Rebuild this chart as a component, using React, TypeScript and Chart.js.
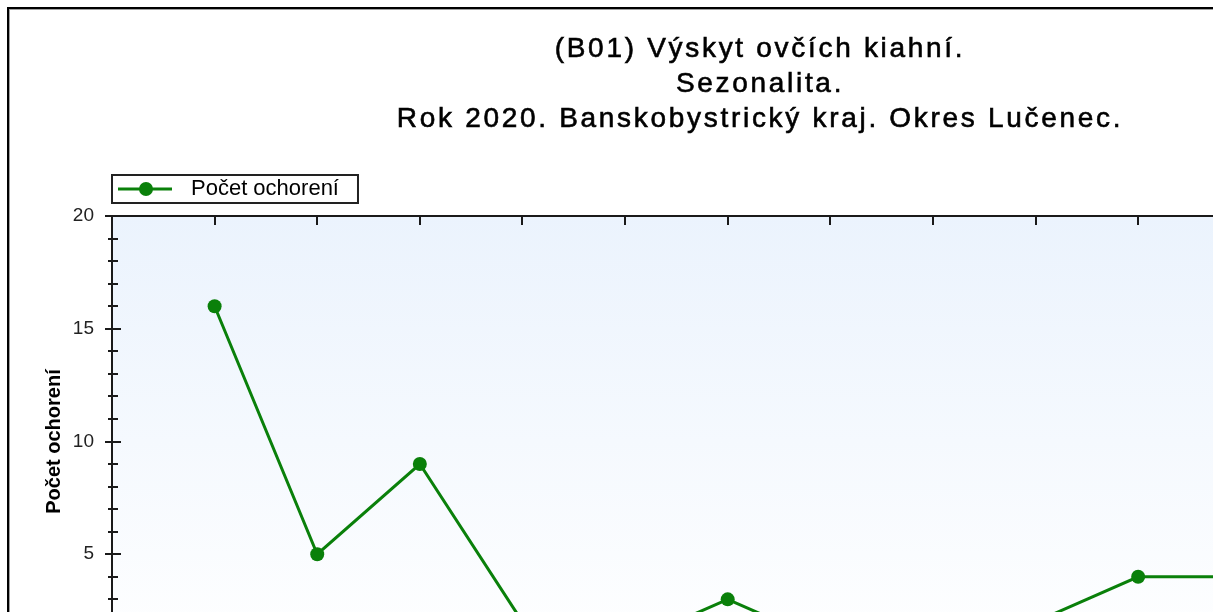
import React, { useEffect, useRef } from 'react';
import { Chart, registerables } from 'chart.js';

Chart.register(...registerables);

// ---- data ----
const TITLE_LINES = [
  '(B01) Výskyt ovčích kiahní.',
  'Sezonalita.',
  'Rok 2020. Banskobystrický kraj. Okres Lučenec.',
];
const SERIES_LABEL = 'Počet ochorení';
const Y_AXIS_TITLE = 'Počet ochorení';
const MONTHS = [
  'Január', 'Február', 'Marec', 'Apríl', 'Máj', 'Jún',
  'Júl', 'August', 'September', 'Október', 'November', 'December',
];
const CASES = [16, 5, 9, 2, 1, 3, 1, 1, 2, 4, 4, 2];
const Y_MIN = 0;
const Y_MAX = 20;
const Y_LABEL_STEP = 5;
const Y_MINOR_STEP = 1;

// ---- style ----
const FONT = "'Liberation Sans', Arial, Helvetica, sans-serif";
const GREEN = '#0a800a';
const AXIS = '#1a1a1a';
const CANVAS_W = 1497;
const CANVAS_H = 717;

function makeLegendSymbol(): HTMLCanvasElement {
  const c = document.createElement('canvas');
  c.width = 62;
  c.height = 18;
  const g = c.getContext('2d')!;
  g.strokeStyle = GREEN;
  g.lineWidth = 3;
  g.beginPath();
  g.moveTo(0, 9);
  g.lineTo(54, 9);
  g.stroke();
  g.fillStyle = GREEN;
  g.beginPath();
  g.arc(28, 9, 7, 0, Math.PI * 2);
  g.fill();
  return c;
}

const decorPlugin = {
  id: 'decor',
  beforeDraw(chart: any) {
    const { ctx, chartArea } = chart;
    const { left, top, right, bottom } = chartArea;
    ctx.save();
    const grad = ctx.createLinearGradient(0, top, 0, bottom);
    grad.addColorStop(0, '#ebf3fd');
    grad.addColorStop(1, '#ffffff');
    ctx.fillStyle = grad;
    ctx.fillRect(left, top, right - left, bottom - top);
    ctx.restore();
  },
  afterDraw(chart: any) {
    const { ctx, chartArea, scales } = chart;
    const { left, top, right, bottom } = chartArea;
    ctx.save();
    // frame
    ctx.strokeStyle = AXIS;
    ctx.lineWidth = 2;
    ctx.strokeRect(left, top, right - left, bottom - top);
    // y ticks (major + minor)
    const ys = scales.y;
    for (let v = Y_MIN; v <= Y_MAX; v += Y_MINOR_STEP) {
      const py = Math.round(ys.getPixelForValue(v));
      const major = v % Y_LABEL_STEP === 0;
      const outL = major ? 7 : 4;
      const inL = major ? 9 : 6;
      ctx.beginPath();
      ctx.moveTo(left - outL, py);
      ctx.lineTo(left + inL, py);
      ctx.stroke();
    }
    // x ticks on top and bottom (inside)
    const xs = scales.x;
    for (let i = 0; i < MONTHS.length; i++) {
      const px = Math.round(xs.getPixelForValue(i + 1));
      ctx.beginPath();
      ctx.moveTo(px, top);
      ctx.lineTo(px, top + 9);
      ctx.moveTo(px, bottom);
      ctx.lineTo(px, bottom - 9);
      ctx.stroke();
    }
    // legend frame
    const hb = chart.legend && chart.legend.legendHitBoxes && chart.legend.legendHitBoxes[0];
    if (hb) {
      const cy = hb.top + hb.height / 2;
      ctx.lineWidth = 2;
      ctx.strokeStyle = '#222';
      ctx.strokeRect(hb.left - 6, cy - 14, hb.width + 25, 28);
    }
    // title
    ctx.fillStyle = '#000';
    ctx.strokeStyle = '#000';
    ctx.lineWidth = 0.6;
    ctx.font = `28px ${FONT}`;
    ctx.textAlign = 'center';
    ctx.textBaseline = 'alphabetic';
    (ctx as any).letterSpacing = '2.7px';
    const cx = chart.width / 2 + 1.5;
    TITLE_LINES.forEach((t, i) => {
      ctx.fillText(t, cx, 47 + i * 35);
      ctx.strokeText(t, cx, 47 + i * 35);
    });
    ctx.restore();
  },
};

export default function App() {
  const ref = useRef<HTMLCanvasElement | null>(null);

  useEffect(() => {
    const canvas = ref.current;
    if (!canvas) return;
    const symbol = makeLegendSymbol();
    const points = MONTHS.map((_, i) => ({ x: i + 1, y: CASES[i] }));
    const chart = new Chart(canvas, {
      type: 'line',
      data: {
        datasets: [
          {
            label: SERIES_LABEL,
            data: points,
            borderColor: GREEN,
            backgroundColor: GREEN,
            borderWidth: 3,
            pointRadius: 7,
            pointHoverRadius: 7,
            pointBackgroundColor: GREEN,
            pointBorderColor: GREEN,
            pointBorderWidth: 0,
            tension: 0,
            fill: false,
          },
        ],
      },
      options: {
        responsive: false,
        animation: false,
        events: [],
        layout: { padding: { top: 162, left: 0, right: 61, bottom: 10 } },
        plugins: {
          title: { display: false },
          tooltip: { enabled: false },
          legend: {
            display: true,
            position: 'top',
            align: 'start',
            fullSize: false,
            labels: {
              usePointStyle: true,
              pointStyle: symbol as any,
              pointStyleWidth: 62,
              padding: 6,
              color: '#000',
              font: { family: FONT, size: 22 },
            },
          },
        },
        scales: {
          x: {
            type: 'linear',
            position: 'bottom',
            min: 0,
            max: MONTHS.length + 1,
            ticks: {
              stepSize: 1,
              autoSkip: false,
              maxRotation: 0,
              color: '#222',
              font: { family: FONT, size: 16 },
              callback: (v: any) => MONTHS[Number(v) - 1] ?? '',
            },
            grid: { display: false },
            border: { display: false },
            afterFit: (s: any) => { s.height = 50; },
          },
          xTop: {
            type: 'linear',
            position: 'top',
            min: 0,
            max: MONTHS.length + 1,
            ticks: { display: false },
            grid: { display: false },
            border: { display: false },
            afterFit: (s: any) => { s.height = 6; },
          },
          y: {
            type: 'linear',
            position: 'left',
            min: Y_MIN,
            max: Y_MAX,
            ticks: {
              stepSize: Y_LABEL_STEP,
              padding: 10,
              color: '#222',
              font: { family: FONT, size: 19 },
            },
            grid: { display: false },
            border: { display: false },
            title: {
              display: true,
              text: Y_AXIS_TITLE,
              color: '#000',
              font: { family: FONT, size: 20, weight: 'bold' },
              padding: { top: 32, bottom: 0 },
            },
            afterFit: (s: any) => { s.width = 102; },
          },
        },
      } as any,
      plugins: [decorPlugin],
    });
    return () => chart.destroy();
  }, []);

  return (
    <div style={{ position: 'fixed', left: 0, top: 0, width: 1213, height: 612, overflow: 'hidden', background: '#fff' }}>
      <div style={{ position: 'absolute', left: 7, top: 7, border: '2px solid #000' }}>
        <div style={{ border: '1px solid #a0a0a0' }}>
          <canvas ref={ref} width={CANVAS_W} height={CANVAS_H} style={{ display: 'block', background: '#fff' }} />
        </div>
      </div>
    </div>
  );
}
